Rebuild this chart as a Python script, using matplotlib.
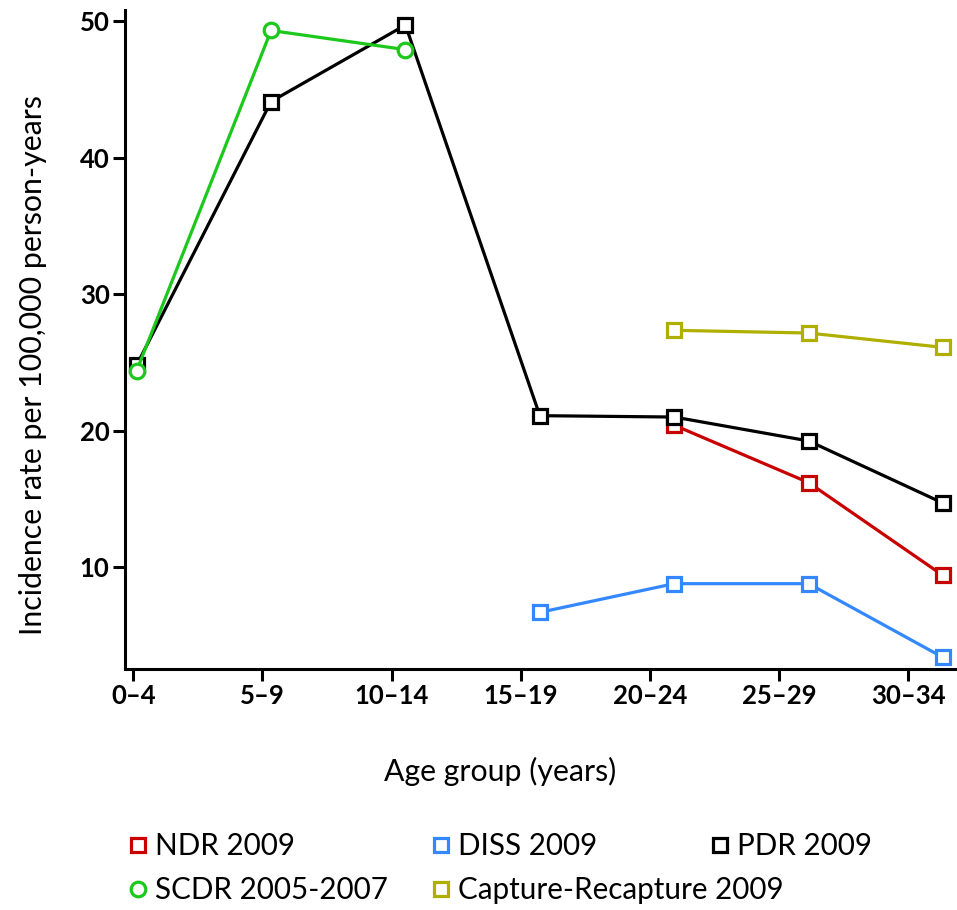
import numpy as np
import matplotlib
matplotlib.use('Agg')
import matplotlib.pyplot as plt
from matplotlib.lines import Line2D

plt.rcParams['font.family'] = ['Lato', 'DejaVu Sans']

# data
age_groups = ['0–4', '5–9', '10–14', '15–19', '20–24', '25–29', '30–34']
ndr_2009 = [np.nan, np.nan, np.nan, np.nan, 20.4, 16.2, 9.4]
diss_2009 = [np.nan, np.nan, np.nan, 6.7, 8.8, 8.8, 3.4]
pdr_2009 = [24.8, 44.1, 49.7, 21.1, 21.0, 19.25, 14.7]
scdr_2005_2007 = [24.4, 49.3, 47.9, np.nan, np.nan, np.nan, np.nan]
capture_recapture_2009 = [np.nan, np.nan, np.nan, np.nan, 27.35, 27.15, 26.1]

red = '#C80000'
blue = '#3388FF'
green = '#1CC81C'
olive = '#AFAF00'

x = np.arange(len(age_groups))

fig = plt.figure(figsize=(9.57, 9.1), dpi=100)
ax = fig.add_axes([0.1306, 0.2648, 0.8674, 0.7242])

lw = 2.3
ms = 10.5
mew = 2.3

def series(y, color, marker):
    ax.plot(x, y, color=color, lw=lw, marker=marker, ms=ms, mew=mew,
            mfc='white', mec=color, clip_on=False)

series(ndr_2009, red, 's')
series(diss_2009, blue, 's')
series(pdr_2009, 'black', 's')
series(scdr_2005_2007, green, 'o')
series(capture_recapture_2009, olive, 's')

ax.set_xlim(-0.087, 6.09)
ax.set_ylim(2.55, 50.8)

# the printed ticks sit a little off the data columns
ax.set_xticks(-0.025 + 0.961 * x)
ax.set_xticklabels(age_groups)
ax.set_yticks([10, 20, 30, 40, 50])

for side in ['top', 'right']:
    ax.spines[side].set_visible(False)
for side in ['left', 'bottom']:
    ax.spines[side].set_linewidth(2.2)

ax.tick_params(length=8.6, width=2.2, pad=2.5, labelsize=18.5)
for lab in ax.get_xticklabels() + ax.get_yticklabels():
    lab.set_fontweight('bold')

ax.set_ylabel('Incidence rate per 100,000 person-years', fontsize=21.8, va='center')
ax.yaxis.set_label_coords(-0.111, 0.461)
ax.set_xlabel('Age group (years)', fontsize=21.8, va='center')
ax.xaxis.set_label_coords(0.452, -0.156)

def handle(color, marker):
    return Line2D([], [], ls='none', marker=marker, ms=ms, mew=mew,
                  mfc='white', mec=color)

legend_kw = dict(loc='upper left', frameon=False, borderpad=0,
                 prop={'size': 21.3},
                 handlelength=0.75, handletextpad=0.2, labelspacing=0.55,
                 borderaxespad=0)

top = 1 - 832 / 910
fig.legend([handle(red, 's'), handle(green, 'o')],
           ['NDR 2009', 'SCDR 2005-2007'],
           bbox_to_anchor=(127 / 957, top), **legend_kw)
fig.legend([handle(blue, 's'), handle(olive, 's')],
           ['DISS 2009', 'Capture-Recapture 2009'],
           bbox_to_anchor=(430 / 957, top), **legend_kw)
fig.legend([handle('black', 's')],
           ['PDR 2009'],
           bbox_to_anchor=(709 / 957, top), **legend_kw)

fig.savefig('out.png', dpi=100)
